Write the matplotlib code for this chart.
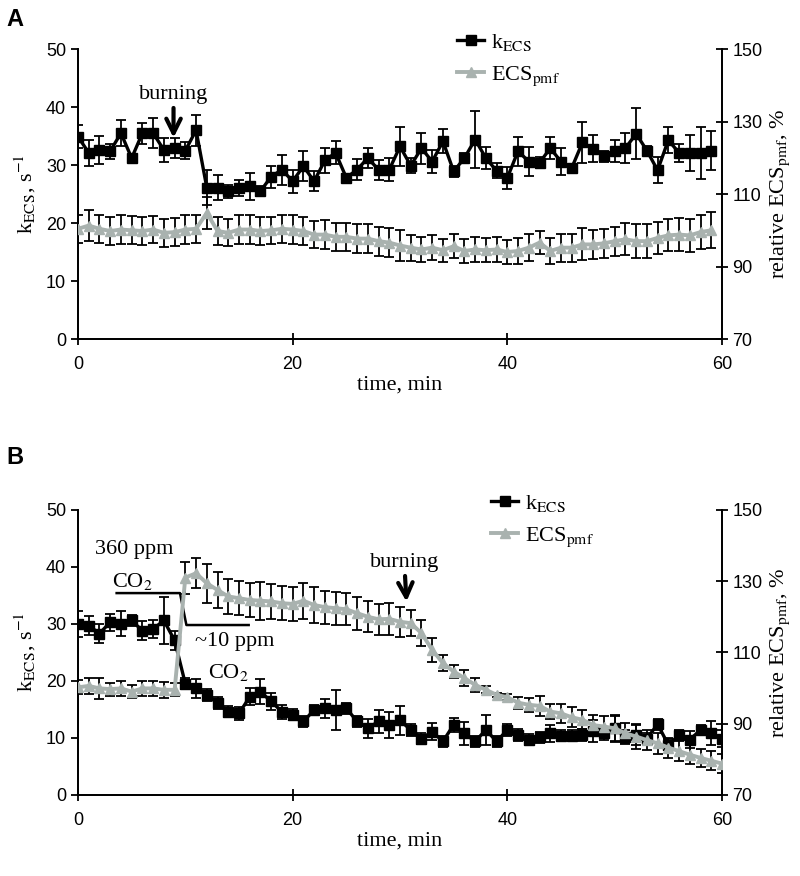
import matplotlib
matplotlib.use('Agg')
import matplotlib.pyplot as plt
from matplotlib.lines import Line2D

plt.rcParams['font.family'] = ['Liberation Serif', 'DejaVu Serif']
plt.rcParams['mathtext.fontset'] = 'stix'

# ---- data ----
time_a = list(range(60))
k_a = [34.9, 32.1, 32.6, 32.4, 35.5, 31.2, 35.5, 35.5, 32.6, 32.9,
       32.5, 36.0, 26.1, 26.1, 25.5, 26.1, 26.3, 25.5, 28.0, 29.2,
       27.2, 29.8, 27.2, 30.8, 32.1, 27.8, 29.2, 31.2, 29.2, 29.2,
       33.2, 29.9, 32.9, 30.6, 34.1, 28.9, 31.2, 34.4, 31.2, 29.0,
       27.8, 32.4, 30.6, 30.4, 32.9, 30.6, 29.5, 33.9, 32.8, 31.5,
       32.4, 32.9, 35.4, 32.5, 29.1, 34.3, 32.1, 32.1, 32.1, 32.5]
k_a_err = [2.0, 2.2, 2.4, 1.3, 2.3, 0.6, 1.8, 2.6, 2.0, 1.7,
           1.4, 2.7, 3.0, 2.1, 1.1, 1.4, 2.3, 0.9, 1.9, 2.6,
           2.0, 2.6, 1.7, 2.1, 2.0, 0.6, 1.8, 1.7, 1.7, 2.0,
           3.3, 1.3, 2.7, 2.0, 2.1, 1.0, 0.9, 4.9, 1.9, 1.3,
           1.9, 2.5, 2.5, 0.9, 1.9, 2.4, 0.7, 3.6, 2.3, 1.0,
           1.9, 2.6, 4.4, 0.7, 2.2, 2.3, 1.6, 3.1, 4.5, 3.4]
ecs_a = [100.4, 101.3, 100.4, 99.8, 100.2, 100.0, 99.8, 100.2, 99.3, 99.5,
         100.2, 100.4, 104.8, 99.8, 99.3, 100.2, 100.2, 99.8, 100.0, 100.4,
         100.2, 99.8, 98.8, 98.8, 98.2, 98.2, 97.7, 97.7, 97.0, 96.6,
         95.8, 95.2, 94.7, 95.2, 94.5, 95.6, 94.3, 94.7, 94.5, 94.7,
         94.0, 94.3, 95.2, 96.6, 94.3, 95.2, 95.2, 96.1, 96.1, 96.4,
         97.0, 97.5, 97.0, 97.0, 97.9, 98.6, 98.8, 98.6, 99.5, 100.0]
ecs_a_err = [3.9, 4.2, 3.9, 3.9, 3.9, 3.9, 3.9, 3.8, 3.9, 3.9,
             3.9, 3.9, 4.5, 3.9, 3.7, 3.9, 3.9, 3.9, 3.8, 3.9,
             3.9, 3.9, 3.8, 3.9, 3.9, 3.9, 3.9, 3.9, 4.0, 4.0,
             4.4, 3.6, 3.5, 3.5, 3.2, 3.3, 3.4, 3.5, 3.3, 3.5,
             3.4, 3.6, 3.8, 3.2, 3.6, 3.9, 3.9, 4.4, 4.0, 4.0,
             4.0, 4.4, 4.6, 4.6, 4.5, 4.4, 4.5, 4.6, 4.6, 5.0]

time_b = list(range(61))
k_b = [30.0, 29.7, 28.3, 30.3, 30.0, 30.6, 28.8, 29.1, 30.6, 27.1,
       19.5, 18.7, 17.5, 16.1, 14.6, 14.3, 17.2, 18.1, 16.4, 14.6,
       14.1, 12.9, 14.9, 15.2, 14.9, 15.2, 12.9, 11.7, 12.9, 12.3,
       13.1, 11.4, 9.9, 11.1, 9.4, 12.3, 10.8, 9.4, 11.4, 9.4,
       11.4, 10.5, 9.7, 10.1, 10.8, 10.4, 10.4, 10.5, 11.2, 10.8,
       11.7, 10.2, 10.5, 9.9, 12.4, 8.8, 10.5, 9.7, 11.4, 10.8, 9.9]
k_b_err = [2.3, 1.6, 1.7, 1.5, 2.2, 0.9, 1.7, 1.5, 4.1, 1.7,
           1.0, 1.7, 1.0, 1.0, 1.0, 1.2, 1.5, 2.2, 1.5, 1.2,
           1.0, 1.0, 0.9, 1.7, 3.5, 1.0, 1.0, 1.7, 2.0, 2.3,
           2.5, 1.0, 1.0, 1.5, 1.0, 1.2, 2.0, 1.0, 2.7, 1.0,
           1.0, 1.0, 1.0, 1.0, 1.5, 1.0, 1.0, 1.0, 1.9, 1.2,
           2.4, 1.2, 1.7, 1.0, 1.0, 1.0, 0.9, 1.5, 0.9, 2.1, 1.5]
ecs_b = [100.2, 100.6, 99.9, 99.7, 99.9, 99.0, 99.9, 99.9, 99.5, 99.5,
         131.0, 132.2, 129.4, 127.5, 125.7, 125.2, 124.7, 124.5, 124.3, 123.8,
         123.6, 124.5, 123.3, 122.7, 122.4, 122.1, 121.0, 120.0, 119.3, 119.4,
         118.6, 118.2, 115.4, 110.7, 107.0, 104.6, 102.8, 100.9, 99.5, 98.1,
         97.4, 95.9, 95.3, 95.0, 93.4, 92.9, 91.8, 91.1, 89.6, 89.2,
         88.7, 87.3, 86.4, 85.4, 84.5, 83.3, 82.3, 81.3, 80.4, 79.6, 78.8]
ecs_b_err = [2.0, 2.2, 3.0, 1.8, 2.0, 1.8, 2.0, 2.0, 2.2, 1.8,
             4.5, 4.2, 5.5, 5.0, 4.8, 4.8, 4.8, 5.3, 4.8, 4.8,
             4.8, 5.0, 5.0, 4.6, 4.6, 4.5, 4.6, 4.4, 4.4, 4.4,
             4.2, 3.7, 3.7, 3.3, 2.3, 1.9, 2.3, 1.9, 1.0, 0.6,
             0.8, 1.7, 1.9, 2.8, 2.2, 2.6, 2.8, 2.6, 2.8, 3.0,
             3.5, 2.8, 3.5, 2.8, 3.0, 2.8, 2.8, 2.6, 2.6, 2.6, 2.6]

# CO2 step drawn in panel B (time, left-axis units)
co2_step_t = [3.6, 9.5, 10.1, 15.9]
co2_step_y = [35.4, 35.4, 29.8, 29.8]

GREY = '#a9b2af'
TICKFONT = ['Liberation Sans Narrow', 'Liberation Sans']

fig = plt.figure(figsize=(8, 8.76), dpi=100)


def panel(rect, t, k, kerr, ecs, ecserr, legend_x):
    ax = fig.add_axes(rect)
    ax2 = ax.twinx()
    ax.errorbar(t, k, yerr=kerr, fmt='none', ecolor='black',
                elinewidth=1.3, capsize=3.5, capthick=1.3, zorder=1)
    ax.plot(t, k, color='black', lw=2.4, marker='s', ms=7, zorder=3)
    ax2.errorbar(t, ecs, yerr=ecserr, fmt='none', ecolor='black',
                 elinewidth=1.3, capsize=3.5, capthick=1.3, zorder=1)
    ax2.plot(t, ecs, color=GREY, lw=2.8, marker='^', ms=7.5, zorder=3)

    ax.set_xlim(0, 60)
    ax.set_ylim(0, 50)
    ax2.set_ylim(70, 150)
    ax.set_xticks([0, 20, 40, 60])
    ax.set_yticks(range(0, 51, 10))
    ax2.set_yticks(range(70, 151, 20))
    for a in (ax, ax2):
        a.spines['top'].set_visible(False)
        for s in a.spines.values():
            s.set_linewidth(1.3)
    ax.tick_params(axis='y', direction='out', length=5, width=1.3,
                   labelsize=13, labelfontfamily=TICKFONT)
    ax.tick_params(axis='x', direction='inout', length=8, width=1.3,
                   labelsize=13, labelfontfamily=TICKFONT, pad=8)
    ax2.tick_params(axis='y', direction='inout', length=8, width=1.3,
                    labelsize=13, labelfontfamily=TICKFONT)

    ax.set_xlabel('time, min', fontsize=16, labelpad=2)
    ax.set_ylabel(r'k$_{\rm ECS}$, s$^{-1}$', fontsize=16, labelpad=6)
    ax2.set_ylabel(r'relative ECS$_{\rm pmf}$, %', fontsize=16, labelpad=4)

    handles = [Line2D([], [], color='black', lw=2.4, marker='s', ms=7),
               Line2D([], [], color=GREY, lw=2.8, marker='^', ms=7.5)]
    ax2.legend(handles, [r'k$_{\rm ECS}$', r'ECS$_{\rm pmf}$'],
               loc='upper left', bbox_to_anchor=(legend_x, 1.09),
               frameon=False, fontsize=16, handlelength=1.2,
               handletextpad=0.3, labelspacing=0.5, borderaxespad=0)
    return ax, ax2


ax_a, ax_a2 = panel([0.0975, 0.613, 0.805, 0.331],
                    time_a, k_a, k_a_err, ecs_a, ecs_a_err, 0.575)
ax_a.annotate('burning', xy=(8.9, 34.7), xytext=(8.9, 42.2),
              ha='center', va='center', fontsize=16,
              arrowprops=dict(arrowstyle='->', lw=3, color='black',
                              mutation_scale=26, shrinkA=1, shrinkB=0))

ax_b, ax_b2 = panel([0.0975, 0.0925, 0.805, 0.3255],
                    time_b, k_b, k_b_err, ecs_b, ecs_b_err, 0.628)
ax_b.annotate('burning', xy=(30.6, 33.9), xytext=(30.4, 40.8),
              ha='center', va='center', fontsize=16,
              arrowprops=dict(arrowstyle='->', lw=3, color='black',
                              mutation_scale=26, shrinkA=1, shrinkB=0))
ax_b.plot(co2_step_t, co2_step_y, color='black', lw=1.8, zorder=4)
ax_b.text(5.2, 43.0, '360 ppm', ha='center', va='center', fontsize=16)
ax_b.text(5.1, 37.4, r'CO$_2$', ha='center', va='center', fontsize=16)
ax_b.text(14.6, 26.9, '~10 ppm', ha='center', va='center', fontsize=16)
ax_b.text(14.0, 21.4, r'CO$_2$', ha='center', va='center', fontsize=16)

fig.text(0.008, 0.978, 'A', fontsize=17, fontweight='bold',
         family='Liberation Sans', va='center')
fig.text(0.008, 0.478, 'B', fontsize=17, fontweight='bold',
         family='Liberation Sans', va='center')

fig.savefig('out.png', dpi=100)
